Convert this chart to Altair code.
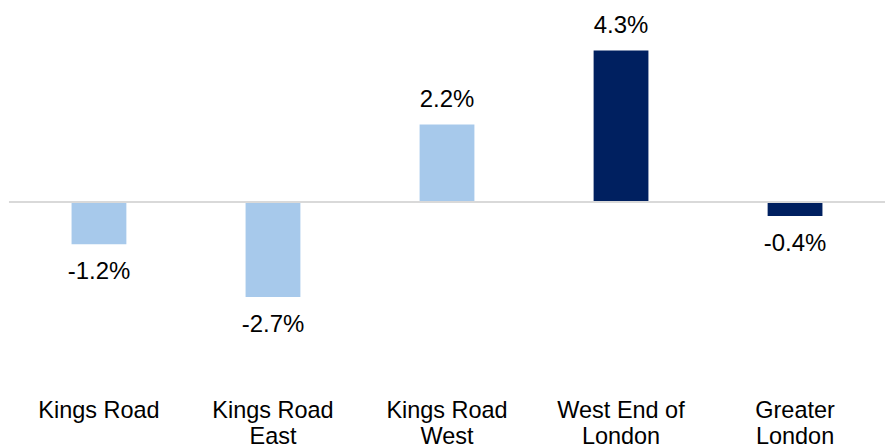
import altair as alt
import pandas as pd

# ---- data ----
categories = ["Kings Road", "Kings Road|East", "Kings Road|West", "West End of|London", "Greater|London"]
values = [-1.2, -2.7, 2.2, 4.3, -0.4]
value_labels = ["-1.2%", "-2.7%", "2.2%", "4.3%", "-0.4%"]
groups = ["Area", "Area", "Area", "Benchmark", "Benchmark"]

group_names = ["Area", "Benchmark"]
group_colors = ["#A7C9EB", "#002060"]

df = pd.DataFrame({
    "category": categories,
    "value": values,
    "label": value_labels,
    "group": groups,
})
df["zero"] = 0.0

FONT = "Liberation Sans"

x = alt.X(
    "category:N",
    sort=categories,
    scale=alt.Scale(paddingInner=0.685, paddingOuter=0.3596),
    axis=alt.Axis(
        title=None,
        labelExpr="split(datum.label, '|')",
        labelAngle=0,
        labelFont=FONT,
        labelFontSize=24,
        labelColor="#000000",
        labelPadding=11.5,
        labelLineHeight=27,
        domain=False,
        ticks=False,
        grid=False,
    ),
)
yscale = alt.Scale(domain=[-5.27, 5.34], nice=False, zero=False)

base = alt.Chart(df)

bars = base.mark_bar().encode(
    x=x,
    y=alt.Y("value:Q", scale=yscale, axis=None),
    y2="zero:Q",
    color=alt.Color("group:N", scale=alt.Scale(domain=group_names, range=group_colors), legend=None),
)

# label anchor: 17.5 px above positive bars, 36 px below negative bars (36 px per unit)
text = base.transform_calculate(
    label_y="datum.value >= 0 ? datum.value + 17.5 / 36 : datum.value - 36 / 36"
).mark_text(
    font=FONT, fontSize=24.5, color="#000000", baseline="alphabetic"
).encode(x=x, y=alt.Y("label_y:Q", scale=yscale, axis=None), text="label:N")

zero_line = alt.Chart(pd.DataFrame({"zero": [0.0]})).mark_rule(
    color="#D9D9D9", strokeWidth=2
).encode(y=alt.Y("zero:Q", scale=yscale, axis=None))

chart = alt.layer(bars, zero_line, text).properties(
    width=896,
    height=382,
    padding=0,
).configure_view(strokeWidth=0)

chart.save("out.html", embed_options={"renderer": "svg", "actions": False})
